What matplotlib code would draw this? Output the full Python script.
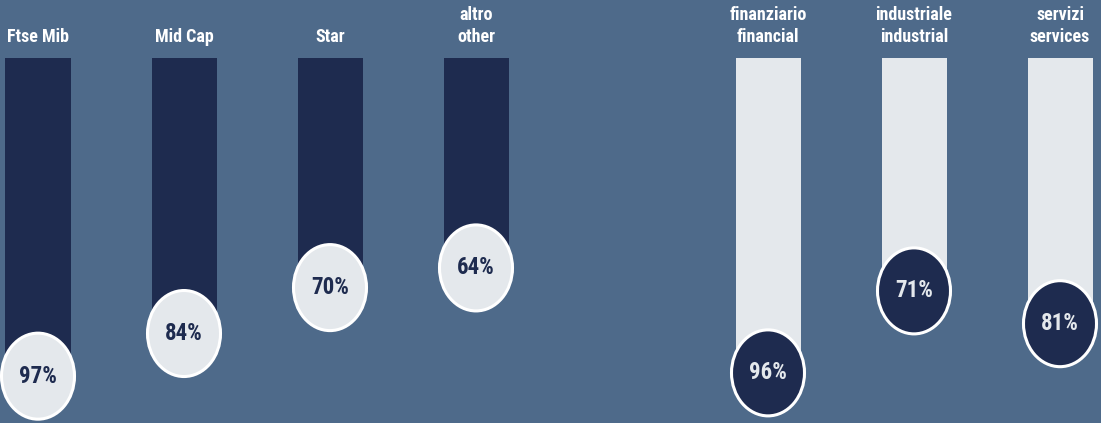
import matplotlib
matplotlib.use("Agg")
import matplotlib.pyplot as plt
from matplotlib.patches import Ellipse
from matplotlib import font_manager

names = {f.name for f in font_manager.fontManager.ttflist}
fam = [n for n in ["Liberation Sans Narrow", "Roboto Condensed", "Open Sans Condensed", "Roboto", "DejaVu Sans"] if n in names]
plt.rcParams['font.family'] = fam

labels = ["Ftse Mib", "Mid Cap", "Star", "altro\nother",
          "finanziario\nfinancial", "industriale\nindustrial", "servizi\nservices"]
values = [97, 84, 70, 64, 96, 71, 81]
positions = [0, 1, 2, 3, 5, 6, 7]
groups = ["market", "market", "market", "market", "sector", "sector", "sector"]

BG = "#4e6a8a"
NAVY = "#1e2b4f"
LIGHT = "#e4e8ec"

W, H = 1101, 423
fig = plt.figure(figsize=(W / 100, H / 100), dpi=100, facecolor=BG)
ax = fig.add_axes([0, 0, 1, 1])
ax.set_facecolor(BG)

px_per_x = 146.0
px_per_y = 3.28
x0_px = 38.0
y0_px = 58.0
ax.set_xlim(-x0_px / px_per_x, (W - x0_px) / px_per_x)
ax.set_ylim((H - y0_px) / px_per_y, -y0_px / px_per_y)
ax.axis('off')

for pos, val, lab, g in zip(positions, values, labels, groups):
    bar_c = NAVY if g == "market" else LIGHT
    circ_c = LIGHT if g == "market" else NAVY
    txt_c = NAVY if g == "market" else LIGHT
    ax.bar(pos, val, width=65 / px_per_x, bottom=0, color=bar_c, zorder=1)
    e = Ellipse((pos, val), width=73 / px_per_x, height=86 / px_per_y,
                facecolor=circ_c, edgecolor="white", linewidth=2.2, zorder=2)
    ax.add_patch(e)
    ax.text(pos, val, f"{val}%", ha='center', va='center', color=txt_c,
            fontsize=16.5, fontweight='bold', zorder=3)
    ax.text(pos, -3.6, lab, ha='center', va='bottom', color="white",
            fontsize=13, fontweight='bold', linespacing=1.3, zorder=3)

fig.savefig("out.png", dpi=100, facecolor=BG)
